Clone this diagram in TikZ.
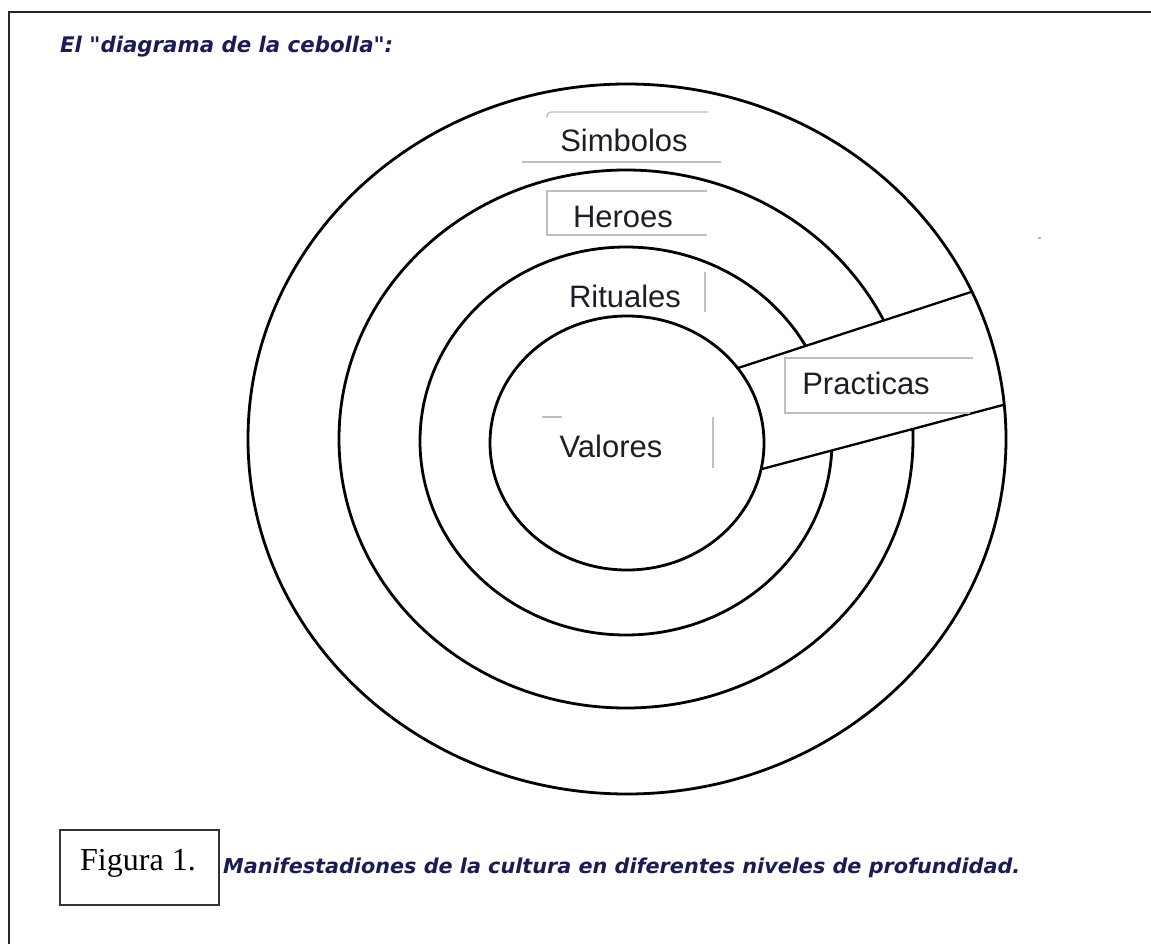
\documentclass[tikz,border=0pt]{standalone}
\usepackage{fontspec}
\usepackage{graphicx}
\setmainfont{Liberation Sans}
\newfontfamily\capfont{DejaVu Sans}
\newfontfamily\timesfont{Liberation Serif}
\definecolor{navy}{RGB}{28,28,85}
\definecolor{lbltext}{RGB}{30,30,40}
\tikzset{
  ring/.style={line width=2.8pt, draw=black},
  bandline/.style={line width=2.3pt, draw=black},
  ghost/.style={draw=black!25, line width=1.3pt},
  lbl/.style={font=\fontsize{31}{36}\selectfont, text=lbltext, anchor=base, inner sep=0pt},
  captxt/.style={anchor=base west, inner sep=0pt, text=navy},
}
\begin{document}
\begin{tikzpicture}[x=1pt,y=-1pt]
\useasboundingbox (0,0) rectangle (1151,944);
\fill[white] (0,0) rectangle (1151,944);

% page frame
\draw[line width=2pt, black!85] (9,944) -- (9,12) -- (1151,12);

% title
\node[captxt] (title) at (60,53) {\resizebox{333pt}{\height}{\capfont\bfseries\itshape\fontsize{21.5}{24}\selectfont El "diagrama de la cebolla":}};

% middle rings (interrupted by the band)
\draw[ring] (626,439) ellipse [x radius=287pt, y radius=269pt];
\draw[ring] (626,441) ellipse [x radius=206pt, y radius=194pt];

% band corners
\coordinate (bi1) at (738,368);
\coordinate (bo1) at (971,292);
\coordinate (bo2) at (1003,405);
\coordinate (bi2) at (762,469);
\fill[white] (bi1) -- (bo1) -- (bo2) -- (bi2) -- cycle;

% outer and inner rings
\draw[ring] (627,439) ellipse [x radius=379pt, y radius=355pt];
\draw[ring] (627,443) ellipse [x radius=137pt, y radius=127pt];

% band lines
\draw[bandline] (bi1) -- (bo1);
\draw[bandline] (bi2) -- (bo2);

% ghost text-box borders
\draw[ghost, rounded corners=4pt] (547,118) -- (547,112) -- (708,112);
\draw[ghost] (522,162) -- (721,162);
\draw[ghost] (707,191) -- (547,191) -- (547,235) -- (707,235);
\draw[ghost] (705,272) -- (705,312);
\draw[ghost] (542,417) -- (562,417);
\draw[ghost] (713,417) -- (713,468);
\draw[ghost] (973,358) -- (785,358) -- (785,413) -- (970,413);
\fill[black!30] (1038,237) rectangle (1041,239);

% labels
\node[lbl] (simbolos) at (624,152) {Simbolos};
\node[lbl] (heroes) at (623,227) {Heroes};
\node[lbl] (rituales) at (625,307) {Rituales};
\node[lbl] (valores) at (611,457) {Valores};
\node[lbl] (practicas) at (866,394) {Practicas};

% figure caption
\draw[line width=1.5pt, black!80] (60,830) rectangle (219,905);
\node[anchor=base west, inner sep=0pt, font=\timesfont\fontsize{32}{36}\selectfont] (fig) at (80,870) {Figura 1.};
\node[captxt] (caption) at (223,873) {\resizebox{797pt}{\height}{\capfont\bfseries\itshape\fontsize{20.5}{23}\selectfont Manifestadiones de la cultura en diferentes niveles de profundidad.}};
\end{tikzpicture}
\end{document}
